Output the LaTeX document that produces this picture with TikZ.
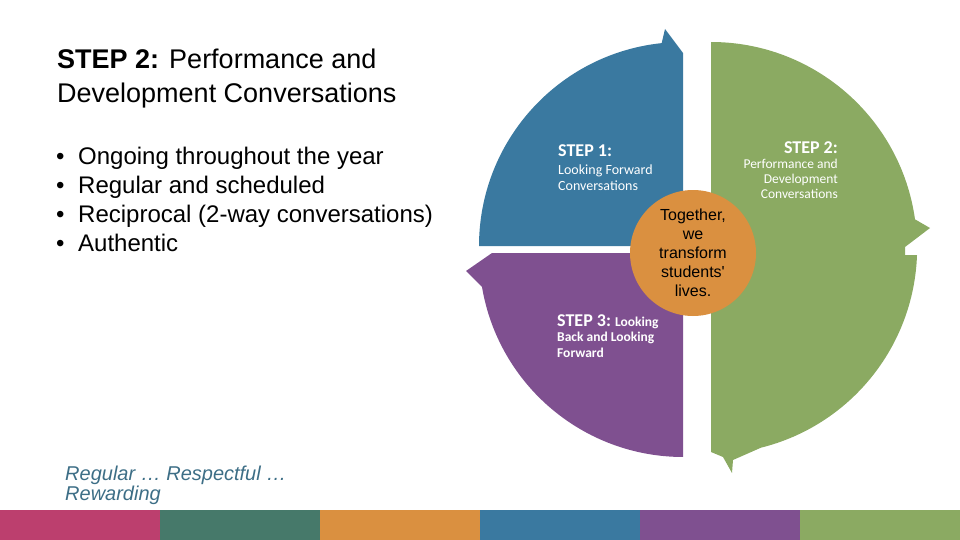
\documentclass[tikz,border=0pt]{standalone}
\usepackage{fontspec}
\setmainfont{Liberation Sans}
\newfontfamily\calfont{Carlito}
\usetikzlibrary{positioning}

\definecolor{stepblue}{HTML}{3A79A0}
\definecolor{steppurple}{HTML}{7F5090}
\definecolor{stepgreen}{HTML}{8BAA62}
\definecolor{steporange}{HTML}{DA9040}
\definecolor{barpink}{HTML}{BC3F6E}
\definecolor{barteal}{HTML}{46796A}
\definecolor{mottoblue}{HTML}{3D6E86}

\newcommand{\stephead}{\fontsize{18}{18}\selectfont\bfseries}

\begin{document}
\begin{tikzpicture}[
        x=1pt, y=-1pt,
        font=\fontsize{24}{29}\selectfont,
        txt/.style={anchor=north west, inner sep=0pt, align=left},
        steptxt/.style={text=white, inner sep=0pt, font=\calfont\fontsize{14}{16}\selectfont},
        hub/.style={circle, fill=steporange, minimum size=126pt, inner sep=0pt, align=center, font=\fontsize{16}{19}\selectfont},
        bar/.style={minimum width=160pt, minimum height=30pt, inner sep=0pt, anchor=north west}
    ]
    \useasboundingbox (0,0) rectangle (960,540);

    % --- left column ---
    \node[txt, font=\fontsize{27}{33.5}\selectfont] (title) at (57,49)
        {\textbf{STEP 2:} Performance and\\Development Conversations};
    \node[txt] (points) at (56,147.4)
        {\makebox[22pt][l]{•}Ongoing throughout the year\\
         \makebox[22pt][l]{•}Regular and scheduled\\
         \makebox[22pt][l]{•}Reciprocal (2-way conversations)\\
         \makebox[22pt][l]{•}Authentic};
    \node[txt, text=mottoblue, font=\itshape\fontsize{20}{20.5}\selectfont] (motto) at (65,465.4)
        {Regular … Respectful …\\Rewarding};

    % --- cycle: three arrows ---
    \fill[stepblue] (479,246) arc[start angle=180, end angle=264, radius=204]
        -- (665,29) -- (683,53) -- (683,246) -- cycle;
    \fill[steppurple] (683,253) -- (492,253) -- (466,271) -- (482,287)
        arc[start angle=170.4, end angle=90, radius=204] -- cycle;
    \fill[stepgreen] (711,42) arc[start angle=270, end angle=352, radius=206]
        -- (930,228) -- (905,247) -- (905,255) -- (917,255)
        arc[start angle=2, end angle=76, radius=206]
        -- (733,460) -- (732,473) -- (723,457) -- (711,452) -- cycle;

    % --- step labels ---
    \node[steptxt, anchor=north west, align=left] (step1) at (558,144.4)
        {{\stephead STEP 1:}\\[2pt]Looking Forward\\Conversations};
    \node[steptxt, anchor=north east, align=right, font=\calfont\fontsize{13.5}{15}\selectfont] (step2) at (838,141.4)
        {{\stephead STEP 2:}\\Performance and\\Development\\Conversations};
    \node[steptxt, anchor=north west, align=left, font=\calfont\bfseries\fontsize{13.5}{15.5}\selectfont] (step3) at (557,314.4)
        {{\fontsize{18}{18}\selectfont STEP 3:} Looking\\Back and Looking\\Forward};

    % --- centre ---
    \node[hub] (hub) at (693,253) {Together,\\we\\transform\\students\textquotesingle\\lives.};

    % --- colour strip ---
    \foreach \c [count=\i from 0] in {barpink, barteal, steporange, stepblue, steppurple, stepgreen}
        \node[bar, fill=\c] (bar\i) at (160*\i,510) {};
\end{tikzpicture}
\end{document}
